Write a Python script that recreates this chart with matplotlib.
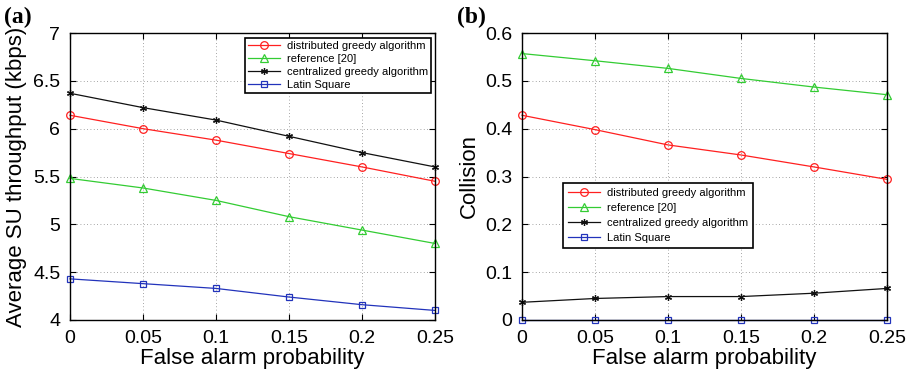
import matplotlib
matplotlib.use("Agg")
import matplotlib.pyplot as plt

# False alarm probability sweep
pfa = [0, 0.05, 0.1, 0.15, 0.2, 0.25]

# (a) average SU throughput (kbps)
thr_distributed = [6.14, 6.00, 5.88, 5.74, 5.60, 5.45]
thr_reference = [5.48, 5.38, 5.25, 5.08, 4.94, 4.80]
thr_centralized = [6.37, 6.22, 6.09, 5.92, 5.75, 5.60]
thr_latin = [4.43, 4.38, 4.33, 4.24, 4.16, 4.10]

# (b) collision
col_distributed = [0.428, 0.398, 0.366, 0.345, 0.320, 0.294]
col_reference = [0.557, 0.542, 0.526, 0.505, 0.487, 0.471]
col_centralized = [0.037, 0.045, 0.049, 0.049, 0.056, 0.066]
col_latin = [0, 0, 0, 0, 0, 0]

labels = ["distributed greedy algorithm", "reference [20]",
          "centralized greedy algorithm", "Latin Square"]
x_ticks = [0, 0.05, 0.1, 0.15, 0.2, 0.25]

plt.rcParams['font.family'] = ['Liberation Sans', 'DejaVu Sans']

styles = [
    dict(color="#ff2020", marker="o", mfc="none", ms=5.5, mew=0.9),
    dict(color="#33cc33", marker="^", mfc="none", ms=5.5, mew=0.9),
    dict(color="#111111", marker=(6, 2, 0), ms=5, mew=0.9),
    dict(color="#2233bb", marker="s", mfc="none", ms=4.5, mew=0.9),
]


def style_axes(ax, yticks, ylabel):
    ax.set_xlim(0, 0.25)
    ax.set_xticks(x_ticks)
    ax.set_xticklabels(["0", "0.05", "0.1", "0.15", "0.2", "0.25"])
    ax.set_yticks(yticks)
    ax.set_ylim(yticks[0], yticks[-1])
    ax.grid(True, color="#555555", linestyle=(0, (1, 3)), linewidth=0.6, alpha=0.7)
    ax.tick_params(direction="in", labelsize=14, top=True, right=True, length=4)
    ax.tick_params(axis="x", pad=7)
    ax.tick_params(axis="y", pad=7)
    ax.set_xlabel("False alarm probability", fontsize=16, labelpad=1)
    ax.set_ylabel(ylabel, fontsize=16, labelpad=4)
    for s in ax.spines.values():
        s.set_linewidth(1.0)


fig = plt.figure(figsize=(9.18, 3.73), dpi=100)
ax1 = fig.add_axes([70 / 918, 1 - 320 / 373, 365 / 918, 287 / 373])
ax2 = fig.add_axes([522 / 918, 1 - 320 / 373, 365 / 918, 287 / 373])

for series, st, lab in zip([thr_distributed, thr_reference, thr_centralized, thr_latin], styles, labels):
    ax1.plot(pfa, series, linewidth=0.9, label=lab, clip_on=False, **st)
style_axes(ax1, [4, 4.5, 5, 5.5, 6, 6.5, 7], "Average SU throughput (kbps)")
ax1.set_yticklabels(["4", "4.5", "5", "5.5", "6", "6.5", "7"])
leg1 = ax1.legend(loc="upper right", bbox_to_anchor=(0.99, 0.983), fontsize=8,
                  fancybox=False, edgecolor="black", framealpha=1, handlelength=2.9,
                  borderpad=0.3, labelspacing=0.25, borderaxespad=0, handletextpad=0.6)
leg1.get_frame().set_linewidth(1.2)

for series, st, lab in zip([col_distributed, col_reference, col_centralized, col_latin], styles, labels):
    ax2.plot(pfa, series, linewidth=0.9, label=lab, clip_on=False, **st)
style_axes(ax2, [0, 0.1, 0.2, 0.3, 0.4, 0.5, 0.6], "Collision")
ax2.set_yticklabels(["0", "0.1", "0.2", "0.3", "0.4", "0.5", "0.6"])
leg2 = ax2.legend(loc="upper left", bbox_to_anchor=(0.112, 0.477), fontsize=8,
                  fancybox=False, edgecolor="black", framealpha=1, handlelength=2.9,
                  borderpad=0.45, labelspacing=0.45, borderaxespad=0, handletextpad=0.6)
leg2.get_frame().set_linewidth(1.2)

fig.text(4 / 918, 1 - 17 / 373, "(a)", fontsize=17, fontweight="bold",
         family="Liberation Serif", va="center")
fig.text(457 / 918, 1 - 17 / 373, "(b)", fontsize=17, fontweight="bold",
         family="Liberation Serif", va="center")

fig.savefig("out.png", dpi=100)
